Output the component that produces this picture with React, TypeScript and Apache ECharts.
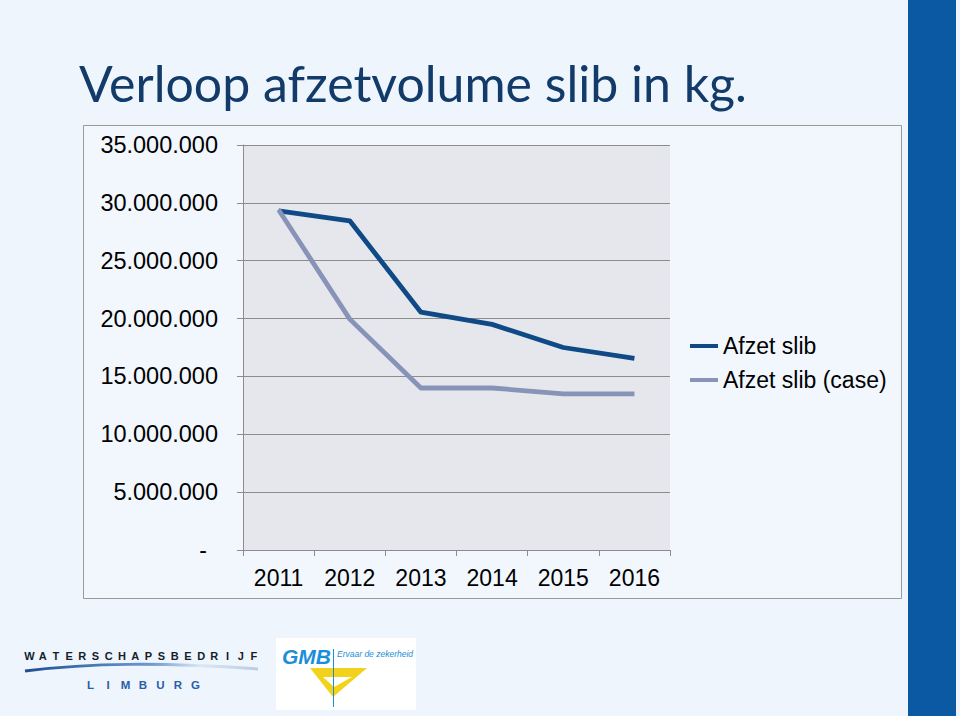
import React, { useEffect, useRef } from "react";
import * as echarts from "echarts";

const years = ["2011", "2012", "2013", "2014", "2015", "2016"];
const afzetSlib = [29300000, 28450000, 20550000, 19500000, 17500000, 16550000];
const afzetSlibCase = [29400000, 19950000, 14000000, 14000000, 13500000, 13500000];
const seriesNames = ["Afzet slib", "Afzet slib (case)"];
const titleText = "Verloop afzetvolume slib in kg.";
const logoTop = "WATERSCHAPSBEDRIJF";
const logoBottom = "LIMBURG";

const fmt = (v: number) =>
  v === 0 ? "{d|-}" : String(v).replace(/\B(?=(\d{3})+(?!\d))/g, ".");

export default function App() {
  const ref = useRef<HTMLDivElement>(null);
  useEffect(() => {
    document.body.style.margin = "0";
    const chart = echarts.init(ref.current!, null, { renderer: "svg" });
    const axisFont = "'Liberation Sans', Arial, sans-serif";

    const letters: any[] = [];
    logoTop.split("").forEach((ch, i) => {
      letters.push({
        type: "text",
        x: 29.5 + i * 13.2,
        y: 656,
        style: {
          text: ch,
          font: "bold 11px 'Liberation Sans', Arial, sans-serif",
          fill: "#151c2c",
          align: "center",
          verticalAlign: "middle",
        },
      });
    });
    logoBottom.split("").forEach((ch, i) => {
      letters.push({
        type: "text",
        x: 90.5 + i * 17.5,
        y: 685,
        style: {
          text: ch,
          font: "bold 11.5px 'Liberation Sans', Arial, sans-serif",
          fill: "#2a5ea8",
          align: "center",
          verticalAlign: "middle",
        },
      });
    });

    chart.setOption({
      animation: false,
      backgroundColor: "#eef5fc",
      graphic: [
        { type: "rect", z: -10, shape: { x: 908, y: 0, width: 48, height: 716 }, style: { fill: "#0b58a3" } },
        { type: "rect", z: -10, shape: { x: 83.5, y: 125.5, width: 818, height: 473 }, style: { fill: "#f1f7fd", stroke: "#9a9a9a", lineWidth: 1 } },
        {
          type: "text",
          x: 79,
          y: 58,
          style: {
            text: titleText,
            font: "50px Lato, 'Open Sans', sans-serif",
            fill: "#123b69",
            verticalAlign: "top",
          },
        },
        ...letters,
        {
          type: "bezierCurve",
          shape: { x1: 25, y1: 671, cpx1: 90, cpy1: 663, cpx2: 160, cpy2: 662, x2: 258, y2: 669 },
          style: {
            stroke: new echarts.graphic.LinearGradient(0, 0, 1, 0, [
              { offset: 0, color: "#1f4f93" },
              { offset: 0.55, color: "#6f9bd0" },
              { offset: 0.75, color: "#dbe7f4" },
              { offset: 1, color: "#b9cde4" },
            ]),
            lineWidth: 3,
            fill: "none",
          },
        },
        { type: "rect", shape: { x: 276, y: 638, width: 140, height: 72 }, style: { fill: "#ffffff" } },
        {
          type: "text",
          x: 282,
          y: 656,
          style: {
            text: "GMB",
            font: "italic 900 21px 'Liberation Sans', Arial, sans-serif",
            fill: "#1c8ed8",
            verticalAlign: "middle",
          },
        },
        {
          type: "text",
          x: 337,
          y: 654,
          style: {
            text: "Ervaar de zekerheid",
            font: "italic 8.5px 'Liberation Sans', Arial, sans-serif",
            fill: "#1c8ed8",
            verticalAlign: "middle",
          },
        },
        {
          type: "polygon",
          shape: { points: [[310, 668], [367, 668], [333, 697]] },
          style: { fill: "#f3d21c" },
        },
        {
          type: "polygon",
          shape: { points: [[323, 677], [352, 677], [334, 687]] },
          style: { fill: "#ffffff" },
        },
        { type: "line", shape: { x1: 333.5, y1: 649, x2: 333.5, y2: 707 }, style: { stroke: "#1c8ed8", lineWidth: 1 } },
      ],
      grid: {
        left: 243,
        right: 290,
        top: 145,
        bottom: 166,
        show: true,
        backgroundColor: "#e6e7ed",
        borderWidth: 0,
      },
      legend: {
        orient: "vertical",
        left: 690,
        top: 334,
        padding: 0,
        icon: "rect",
        itemWidth: 28,
        itemHeight: 4,
        itemGap: 10,
        data: seriesNames,
        textStyle: { fontSize: 23, lineHeight: 24, color: "#000", fontFamily: axisFont },
      },
      xAxis: {
        type: "category",
        data: years,
        boundaryGap: true,
        axisLine: { show: true, lineStyle: { color: "#8c8c8c", width: 1 } },
        axisTick: { show: true, length: 6, lineStyle: { color: "#8c8c8c" } },
        axisLabel: { fontSize: 23, color: "#000", fontFamily: axisFont, margin: 16 },
      },
      yAxis: {
        type: "value",
        min: 0,
        max: 35000000,
        interval: 5000000,
        axisLine: { show: true, lineStyle: { color: "#8c8c8c", width: 1 } },
        axisTick: { show: true, length: 6, lineStyle: { color: "#8c8c8c" } },
        splitLine: { show: true, lineStyle: { color: "#8c8c8c", width: 1 } },
        axisLabel: {
          fontSize: 23.5,
          color: "#000",
          fontFamily: axisFont,
          margin: 25,
          formatter: fmt,
          rich: { d: { fontSize: 23, fontFamily: axisFont, color: "#000", padding: [0, 11, 0, 0] } },
        },
      },
      series: [
        {
          name: seriesNames[0],
          type: "line",
          data: afzetSlib,
          symbol: "none",
          lineStyle: { width: 4.8, color: "#0f4a87", join: "round" },
          itemStyle: { color: "#0f4a87" },
        },
        {
          name: seriesNames[1],
          type: "line",
          data: afzetSlibCase,
          symbol: "none",
          lineStyle: { width: 4.8, color: "#8793b7", join: "round" },
          itemStyle: { color: "#8793b7" },
        },
      ],
    });
    return () => chart.dispose();
  }, []);
  return <div ref={ref} style={{ width: 960, height: 716 }} />;
}
